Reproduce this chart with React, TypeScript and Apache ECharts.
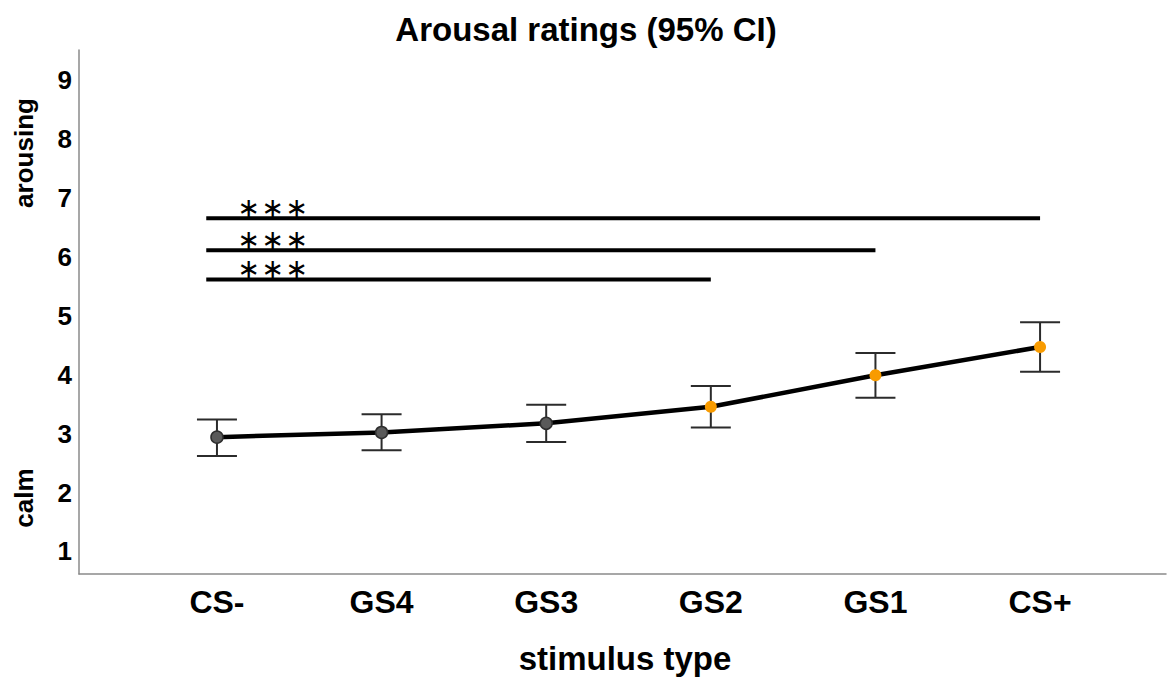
import React, { useEffect, useRef } from "react";
import * as echarts from "echarts";

const categories = ["CS-", "GS4", "GS3", "GS2", "GS1", "CS+"];
const means = [2.94, 3.02, 3.175, 3.456, 3.99, 4.47];
const lowerCI = [2.62, 2.72, 2.86, 3.105, 3.61, 4.05];
const upperCI = [3.24, 3.33, 3.49, 3.81, 4.37, 4.89];
const markerColors = ["#5a5a5a", "#5a5a5a", "#5a5a5a", "#f89b00", "#f89b00", "#f89b00"];
const yTicks = [1, 2, 3, 4, 5, 6, 7, 8, 9];
// significance bars: start index, end index, level, label
const sigStart = [-0.065, -0.065, -0.065];
const sigEnd = [5, 4, 3];
const sigLevel = [6.653, 6.11, 5.615];
const sigLabel = ["\u2217\u2217\u2217", "\u2217\u2217\u2217", "\u2217\u2217\u2217"];

const FONT = "'Liberation Sans', Arial, sans-serif";

export default function App() {
  const ref = useRef<HTMLDivElement>(null);
  useEffect(() => {
    if (!ref.current) return;
    const chart = echarts.init(ref.current, null, { renderer: "svg" });
    const errData = means.map((_, i) => [i, lowerCI[i], upperCI[i]]);
    const sigData = sigLevel.map((lv, i) => [sigStart[i], sigEnd[i], lv]);
    chart.setOption({
      animation: false,
      backgroundColor: "#ffffff",
      grid: { left: 79, right: 1, top: 50, bottom: 106, containLabel: false },
      xAxis: {
        type: "value",
        min: -0.838,
        max: 5.765,
        axisLine: { show: true, onZero: false, lineStyle: { color: "#8a8a8a", width: 1.5 } },
        axisTick: { show: false },
        splitLine: { show: false },
        axisLabel: {
          customValues: [0, 1, 2, 3, 4, 5],
          formatter: (v: number) => categories[Math.round(v)] ?? "",
          fontSize: 32,
          fontWeight: "bold",
          fontFamily: FONT,
          color: "#000",
          margin: 12,
        },
      },
      yAxis: {
        type: "value",
        min: 0.618,
        max: 9.51,
        axisLine: { show: true, onZero: false, lineStyle: { color: "#8a8a8a", width: 1.5 } },
        axisTick: { show: false },
        splitLine: { show: false },
        axisLabel: {
          customValues: yTicks,
          fontSize: 26,
          fontWeight: "bold",
          fontFamily: FONT,
          color: "#000",
          margin: 7,
        },
      },
      graphic: [
        {
          type: "text",
          x: 586,
          y: 29,
          style: {
            text: "Arousal ratings (95% CI)",
            fontSize: 33,
            fontWeight: "bold",
            fontFamily: FONT,
            fill: "#000",
            align: "center",
            verticalAlign: "middle",
          },
        },
        {
          type: "text",
          x: 625,
          y: 658,
          style: {
            text: "stimulus type",
            fontSize: 33,
            fontWeight: "bold",
            fontFamily: FONT,
            fill: "#000",
            align: "center",
            verticalAlign: "middle",
          },
        },
        {
          type: "text",
          x: 24,
          y: 153,
          rotation: Math.PI / 2,
          style: {
            text: "arousing",
            fontSize: 26,
            fontWeight: "bold",
            fontFamily: FONT,
            fill: "#000",
            align: "center",
            verticalAlign: "middle",
          },
        },
        {
          type: "text",
          x: 24,
          y: 498,
          rotation: Math.PI / 2,
          style: {
            text: "calm",
            fontSize: 26,
            fontWeight: "bold",
            fontFamily: FONT,
            fill: "#000",
            align: "center",
            verticalAlign: "middle",
          },
        },
      ],
      series: [
        {
          type: "custom",
          name: "sig",
          data: sigData,
          z: 3,
          renderItem: (params: any, api: any) => {
            const s = api.coord([api.value(0), api.value(2)]);
            const e = api.coord([api.value(1), api.value(2)]);
            const a = api.coord([0.34, api.value(2)]);
            const chars = Array.from(sigLabel[params.dataIndex]);
            const stars = chars.map((ch, k) => ({
              type: "text",
              x: a[0] + (k - 1) * 24,
              y: a[1] - 11,
              style: {
                text: ch,
                fontSize: 27,
                lineHeight: 20,
                fontFamily: "'DejaVu Sans', sans-serif",
                fill: "#000",
                align: "center",
                verticalAlign: "middle",
              },
            }));
            return {
              type: "group",
              children: [
                {
                  type: "line",
                  shape: { x1: s[0], y1: s[1], x2: e[0], y2: e[1] },
                  style: { stroke: "#000", lineWidth: 4 },
                },
                ...stars,
              ],
            };
          },
        },
        {
          type: "custom",
          name: "ci",
          data: errData,
          z: 2,
          renderItem: (params: any, api: any) => {
            const lo = api.coord([api.value(0), api.value(1)]);
            const hi = api.coord([api.value(0), api.value(2)]);
            const hw = 20;
            const st = { stroke: "#2b2b2b", lineWidth: 2 };
            return {
              type: "group",
              children: [
                { type: "line", shape: { x1: lo[0], y1: lo[1], x2: hi[0], y2: hi[1] }, style: st },
                { type: "line", shape: { x1: lo[0] - hw, y1: lo[1], x2: lo[0] + hw, y2: lo[1] }, style: st },
                { type: "line", shape: { x1: hi[0] - hw, y1: hi[1], x2: hi[0] + hw, y2: hi[1] }, style: st },
              ],
            };
          },
        },
        {
          type: "line",
          name: "mean",
          z: 4,
          data: means.map((m, i) => ({
            value: [i, m],
            itemStyle: {
              color: markerColors[i],
              borderColor: i < 3 ? "#2e2e2e" : markerColors[i],
              borderWidth: i < 3 ? 1.5 : 0,
            },
          })),
          symbol: "circle",
          symbolSize: 12,
          showSymbol: true,
          lineStyle: { color: "#000", width: 4.5 },
          emphasis: { disabled: true },
        },
      ],
    });
    return () => chart.dispose();
  }, []);
  return (
    <div
      ref={ref}
      style={{ position: "fixed", left: 0, top: 0, width: 1167, height: 680, background: "#fff" }}
    />
  );
}
